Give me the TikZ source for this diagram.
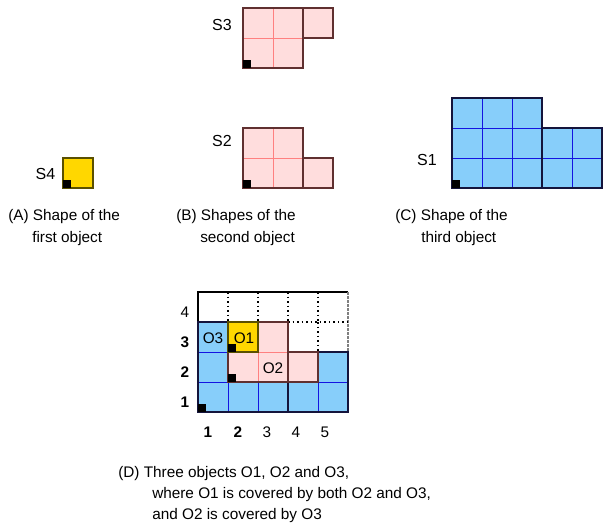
\documentclass[tikz,border=0pt]{standalone}
\usepackage{fontspec}
\setmainfont{Liberation Sans}
\definecolor{skyfill}{RGB}{135,206,250}
\definecolor{skyline}{RGB}{20,20,225}
\definecolor{skyedge}{RGB}{20,20,60}
\definecolor{pinkfill}{RGB}{255,221,221}
\definecolor{pinkline}{RGB}{255,128,128}
\definecolor{pinkedge}{RGB}{96,48,48}
\definecolor{goldfill}{RGB}{255,215,0}
\definecolor{goldedge}{RGB}{90,80,0}
\newcommand\cellblock[7]{% x, y(top), cols, rows, fill, inner line, outline
  \foreach \cc in {1,...,#3}{\foreach \rr in {1,...,#4}{%
    \draw[fill=#5,draw=#6,line width=0.75pt] ({#1+(\cc-1)*30},{#2+(\rr-1)*30}) rectangle ++(30,30);}}%
  \draw[draw=#7,line width=1.1pt] (#1,#2) rectangle ++({#3*30},{#4*30});}
\newcommand\anchormark[2]{\fill[black] (#1,#2) rectangle ++(8,-8);}
\begin{document}
\begin{tikzpicture}[x=0.75pt,y=-0.75pt,
  lbl/.style={inner sep=0pt,font=\fontsize{11.5pt}{14pt}\selectfont},
  shapelbl/.style={inner sep=0pt,font=\fontsize{12pt}{14pt}\selectfont},
  captext/.style={inner sep=0pt,anchor=base west,font=\fontsize{11.5pt}{14pt}\selectfont},
  dotline/.style={black,line width=1pt,dash pattern=on 1.2pt off 2.2pt}]
\useasboundingbox (0,0) rectangle (605,529);
% S3
\cellblock{243}{8}{2}{2}{pinkfill}{pinkline}{pinkedge}
\cellblock{303}{8}{1}{1}{pinkfill}{pinkline}{pinkedge}
\anchormark{243}{68}
\node[shapelbl] (s3) at (222,25) {S3};
% S2
\cellblock{243}{128}{2}{2}{pinkfill}{pinkline}{pinkedge}
\cellblock{303}{158}{1}{1}{pinkfill}{pinkline}{pinkedge}
\anchormark{243}{188}
\node[shapelbl] (s2) at (222,141) {S2};
% S1
\cellblock{452}{98}{3}{3}{skyfill}{skyline}{skyedge}
\cellblock{542}{128}{2}{2}{skyfill}{skyline}{skyedge}
\anchormark{452}{188}
\node[shapelbl] (s1) at (427,160) {S1};
% S4
\cellblock{63}{158}{1}{1}{goldfill}{goldedge}{goldedge}
\anchormark{63}{188}
\node[shapelbl] (s4) at (45.5,174) {S4};
% captions
\node[captext] (ca1) at (8,220) {(A) Shape of the};
\node[captext] (ca2) at (32,242) {first object};
\node[captext] (cb1) at (176,220) {(B) Shapes of the};
\node[captext] (cb2) at (200,242) {second object};
\node[captext] (cc1) at (395,220) {(C) Shape of the};
\node[captext] (cc2) at (421,242) {third object};
% grid D
\draw[black,line width=1pt] (198,322) -- (198,292) -- (348,292);
\draw[gray,line width=1.5pt,dash pattern=on 2pt off 1pt] (348,292) -- (348,352);
\foreach \xx in {228,258,288,318}{\draw[dotline] (\xx,292) -- (\xx,322);}
\draw[dotline] (288,322) -- (348,322);
\draw[dotline] (318,322) -- (318,352);
% O3
\cellblock{198}{322}{3}{3}{skyfill}{skyline}{skyedge}
\cellblock{288}{352}{2}{2}{skyfill}{skyline}{skyedge}
% O2
\cellblock{228}{322}{2}{2}{pinkfill}{pinkline}{pinkedge}
\cellblock{288}{352}{1}{1}{pinkfill}{pinkline}{pinkedge}
% O1
\cellblock{228}{322}{1}{1}{goldfill}{goldedge}{goldedge}
\anchormark{198}{412}
\anchormark{228}{382}
\anchormark{228}{352}
\node[lbl] (o3) at (213,338) {O3};
\node[lbl] (o1) at (244,338) {O1};
\node[lbl] (o2) at (273,368) {O2};
% axis labels
\node[lbl] (r4) at (185,312) {4};
\node[lbl] (r3) at (185,342) {\textbf{3}};
\node[lbl] (r2) at (185,372) {\textbf{2}};
\node[lbl] (r1) at (185,402) {\textbf{1}};
\node[lbl] (k1) at (208,432) {\textbf{1}};
\node[lbl] (k2) at (238,432) {\textbf{2}};
\node[lbl] (k3) at (267,432) {3};
\node[lbl] (k4) at (296,432) {4};
\node[lbl] (k5) at (325,432) {5};
% caption D
\node[captext] (cd1) at (118,477) {(D) Three objects O1, O2 and O3,};
\node[captext] (cd2) at (152,498) {where O1 is covered by both O2 and O3,};
\node[captext] (cd3) at (152,519) {and O2 is covered by O3};
\end{tikzpicture}
\end{document}
